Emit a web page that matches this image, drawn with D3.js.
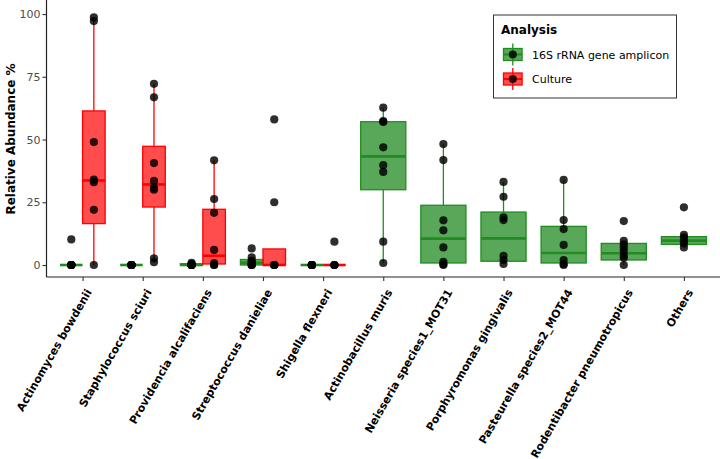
<!DOCTYPE html>
<html><head><meta charset="utf-8">
<script src="https://cdn.jsdelivr.net/npm/d3@7"></script>
<style>body{margin:0;background:#fff}svg{display:block}text{font-family:"DejaVu Sans",Verdana,sans-serif}</style>
</head><body><svg id="c" width="720" height="459"></svg>
<script>
const categories = ["Actinomyces bowdenii","Staphylococcus sciuri","Providencia alcalifaciens","Streptococcus danieliae","Shigella flexneri","Actinobacillus muris","Neisseria species1_MOT31","Porphyromonas gingivalis","Pasteurella species2_MOT44","Rodentibacter pneumotropicus","Others"];
const groups = ["16S rRNA gene amplicon","Culture"];
const yTicks = [0,25,50,75,100];

// raw sample values (points)
const points16S = [
  [0,0,0,0,0,0,0,10.2],
  [0,0,0,0,0,0,0,0],
  [0,0,0,0,0,0,0.4,0.9],
  [0,0,0,0.5,1.3,1.7,3.1,6.6],
  [0,0,0,0,0,0,0,0],
  [0.8,9.3,37.1,39.8,46.9,57.0,57.3,62.7],
  [0,0.3,1.3,7.0,13.8,17.8,41.8,48.2],
  [0.4,2.0,3.6,17.9,19.0,27.2,33.1],
  [0,0.4,2.0,8.0,14.3,17.9,33.9],
  [0,2.9,3.8,5.6,7.0,8.2,9.6,17.5],
  [7.0,8.6,9.5,10.9,12.0,23.0]
];
const pointsCulture = [
  [0,22,33,34,49,97.2,98.7],
  [1.1,2.7,30.0,30.8,33.5,40.6,66.8,72.2],
  [0,0,0.8,6.0,20.8,26.3,41.7],
  [0,0,0,0,25.0,58.0],
  [0,0,0,9.3],
  null,null,null,null,null,null
];
// box statistics: [lower whisker, Q1, median, Q3, upper whisker]
const box16S = [
  [0,0,0,0,0],
  [0,0,0,0,0],
  [0,0,0,0.5,0.9],
  [0,0,0.9,2.2,3.1],
  [0,0,0,0,0],
  [0.8,30.0,43.3,57.1,62.7],
  [0,0.8,10.5,23.8,48.2],
  [0.4,1.5,10.6,21.1,33.1],
  [0,0.8,4.8,15.4,33.9],
  [0,2.0,4.7,8.6,8.6],
  [7.0,8.2,9.7,11.3,12.0]
];
const boxCulture = [
  [0,16.5,33.7,61.4,98.7],
  [1.1,23.1,32.1,47.3,72.2],
  [0,0.4,3.7,22.2,41.7],
  [0,0,0,6.4,6.4],
  [0,0,0,0,0],
  null,null,null,null,null,null
];

const colors = {"16S rRNA gene amplicon":{stroke:"#228B22",fill:"#228B22",op:0.75},"Culture":{stroke:"#FF0000",fill:"#FF0000",op:0.7}};

const svg = d3.select("#c");
const L=46.5,R=720,T=0,B=277;
const x = d3.scalePoint().domain(categories).range([L,R]).padding(0.6);
const y = d3.scaleLinear().domain([-4.78,105.6]).range([B,T]);
const step = x.step(), bw = step*0.75;

const g = svg.append("g");
categories.forEach((c,i)=>{
  const both = boxCulture[i]!==null;
  const sets = [{grp:groups[0],box:box16S[i],pts:points16S[i]}];
  if(both) sets.push({grp:groups[1],box:boxCulture[i],pts:pointsCulture[i]});
  const w = both? bw/2 : bw;
  sets.forEach((s,k)=>{
    const cx = both ? x(c) + (k===0?-w/2:w/2) : x(c);
    const col = colors[s.grp];
    const [lo,q1,md,q3,hi] = s.box;
    const gg = g.append("g");
    gg.append("line").attr("x1",cx).attr("x2",cx).attr("y1",y(q3)).attr("y2",y(hi)).attr("stroke",col.stroke).attr("stroke-width",1.3);
    gg.append("line").attr("x1",cx).attr("x2",cx).attr("y1",y(q1)).attr("y2",y(lo)).attr("stroke",col.stroke).attr("stroke-width",1.3);
    gg.append("rect").attr("x",cx-w/2).attr("width",w).attr("y",y(q3)).attr("height",Math.max(0,y(q1)-y(q3)))
      .attr("fill",col.fill).attr("fill-opacity",col.op).attr("stroke",col.stroke).attr("stroke-width",1.3);
    gg.append("line").attr("x1",cx-w/2).attr("x2",cx+w/2).attr("y1",y(md)).attr("y2",y(md)).attr("stroke",col.stroke).attr("stroke-width",2.6);
    s.pts.forEach(v=>{
      gg.append("circle").attr("cx",cx).attr("cy",y(v)).attr("r",4.1).attr("fill","#000").attr("fill-opacity",0.82);
    });
  });
});

// axes
const ya = svg.append("g").attr("transform",`translate(${L},0)`).call(d3.axisLeft(y).tickValues(yTicks).tickSize(4).tickSizeOuter(0));
ya.select(".domain").attr("stroke","#222").attr("stroke-width",1.2).attr("d",`M0,${T}V${B}`);
ya.selectAll(".tick line").attr("stroke","#333").attr("stroke-width",1.1);
ya.selectAll(".tick text").attr("fill","#4d4d4d").attr("font-size",11).attr("x",-6).attr("font-family","DejaVu Sans");
const xa = svg.append("g").attr("transform",`translate(0,${B})`).call(d3.axisBottom(x).tickSize(4).tickSizeOuter(0));
xa.select(".domain").attr("stroke","#222").attr("stroke-width",1.2).attr("d",`M${L},0H${R}`);
xa.selectAll(".tick line").attr("stroke","#333").attr("stroke-width",1.1);
xa.selectAll(".tick text").attr("fill","#000").attr("font-size",11).attr("font-weight","bold").attr("font-family","DejaVu Sans")
  .attr("text-anchor","end").attr("y",0).attr("dy",0)
  .attr("transform","translate(9,15) rotate(-60)");

svg.append("text").attr("transform","translate(15,139) rotate(-90)").attr("text-anchor","middle")
  .attr("font-size",12).attr("font-weight","bold").text("Relative Abundance %");

// legend
const lg = svg.append("g");
lg.append("rect").attr("x",493.5).attr("y",15).attr("width",183).attr("height",83).attr("fill","#fff").attr("stroke","#333").attr("stroke-width",1);
lg.append("text").attr("x",501).attr("y",34).attr("font-size",12).attr("font-weight","bold").text("Analysis");
groups.forEach((gname,k)=>{
  const cy = 54.5 + k*24.5, col = colors[gname];
  lg.append("line").attr("x1",512.8).attr("x2",512.8).attr("y1",cy-11).attr("y2",cy+11).attr("stroke",col.stroke).attr("stroke-width",1.3);
  lg.append("rect").attr("x",503.5).attr("y",cy-6).attr("width",18.6).attr("height",12).attr("fill",col.fill).attr("fill-opacity",col.op).attr("stroke",col.stroke).attr("stroke-width",1.3);
  lg.append("line").attr("x1",503.5).attr("x2",522).attr("y1",cy).attr("y2",cy).attr("stroke",col.stroke).attr("stroke-width",2);
  lg.append("circle").attr("cx",512.8).attr("cy",cy).attr("r",4.1).attr("fill","#000").attr("fill-opacity",0.82);
  lg.append("text").attr("x",532).attr("y",cy+4).attr("font-size",11).text(gname);
});
</script></body></html>
